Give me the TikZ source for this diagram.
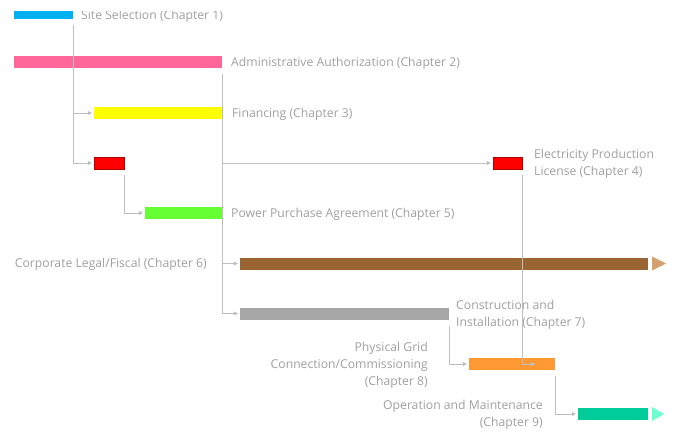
\documentclass[tikz,border=0pt]{standalone}
\usepackage{fontspec}
\setmainfont{Open Sans}
\usepackage{tikz}
\usetikzlibrary{arrows.meta,positioning}
\definecolor{cblue}{RGB}{0,176,240}
\definecolor{cpink}{RGB}{255,102,153}
\definecolor{cyellow}{RGB}{255,255,0}
\definecolor{cred}{RGB}{255,0,0}
\definecolor{cgreen}{RGB}{102,255,51}
\definecolor{cbrown}{RGB}{153,102,51}
\definecolor{ctan}{RGB}{214,160,110}
\definecolor{cgray}{RGB}{166,166,166}
\definecolor{corange}{RGB}{255,153,51}
\definecolor{cteal}{RGB}{0,204,153}
\definecolor{caqua}{RGB}{110,255,210}
\definecolor{ctext}{RGB}{160,160,160}
\definecolor{cline}{RGB}{190,190,190}
\tikzstyle{bar} = [rectangle, inner sep=0pt, minimum height=12pt]
\tikzstyle{lbl} = [ctext, inner sep=0pt, font=\fontsize{12.2}{17}\selectfont]
\tikzstyle{c} = [draw=cline, thin, -{Triangle[length=4pt,width=4pt]}, shorten >=2pt, shorten <=6pt]

\begin{document}
\begin{tikzpicture}[x=1pt,y=-1pt]
		\useasboundingbox (0,0) rectangle (695,442);
		\clip (0,11.5) rectangle (695,442);

		\begin{scope}[every node/.style={bar}]
			\node[fill=cblue,   minimum width=59pt]  (S)  at (43.5,13) {};
			\node[fill=cpink,   minimum width=208pt] (A)  at (118,62) {};
			\node[fill=cyellow, minimum width=128pt] (F)  at (158,113) {};
			\node[fill=cred, draw=red!70!black, minimum width=30pt] (L1) at (109,163) {};
			\node[fill=cgreen,  minimum width=77pt]  (P)  at (183.5,213) {};
			\node[fill=cred, draw=red!70!black, minimum width=29pt] (L2) at (507.5,163) {};
			\node[fill=cbrown,  minimum width=408pt] (B)  at (444,263.5) {};
			\node[fill=cgray,   minimum width=209pt] (G)  at (344.5,313.5) {};
			\node[fill=corange, minimum width=86pt]  (O)  at (512,364) {};
			\node[fill=cteal,   minimum width=70pt]  (M)  at (613,414) {};
		\end{scope}

		% end tips
		\fill[ctan]  (B.east) ++(4,-7) -- ++(14,7) -- ++(-14,7) -- cycle;
		\fill[caqua] (M.east) ++(4,-7) -- ++(12,7) -- ++(-12,7) -- cycle;

		\begin{scope}[every node/.style={lbl}]
			\node[anchor=west] (T1) at (81,16) {Site Selection (Chapter 1)};
			\node[anchor=west] (T2) at (231,63) {Administrative Authorization (Chapter 2)};
			\node[anchor=west] (T3) at (232,114) {Financing (Chapter 3)};
			\node[anchor=west, align=left] (T4) at (534,164) {Electricity Production\\License (Chapter 4)};
			\node[anchor=west] (T5) at (231,214) {Power Purchase Agreement (Chapter 5)};
			\node[anchor=east] (T6) at (207,264) {Corporate Legal/Fiscal (Chapter 6)};
			\node[anchor=west, align=left] (T7) at (456,315) {Construction and\\Installation (Chapter 7)};
			\node[anchor=east, align=right] (T8) at (428,365) {Physical Grid\\Connection/Commissioning\\(Chapter 8)};
			\node[anchor=east, align=right] (T9) at (543,415) {Operation and Maintenance\\(Chapter 9)};
		\end{scope}

		\coordinate (o4) at (537,364);

		\draw[c] (S.south east) |- (F.west);
		\draw[c] (S.south east) |- (L1.west);
		\draw[c] (A.south east) |- (L2.west);
		\draw[c] (A.south east) |- (B.west);
		\draw[c] (A.south east) |- (G.west);
		\draw[c] (L1.south east) |- (P.west);
		\draw[c] (L2.south east) |- (o4);
		\draw[c] (G.south east) |- (O.west);
		\draw[c] (O.south east) |- (M.west);
	\end{tikzpicture}
\end{document}
